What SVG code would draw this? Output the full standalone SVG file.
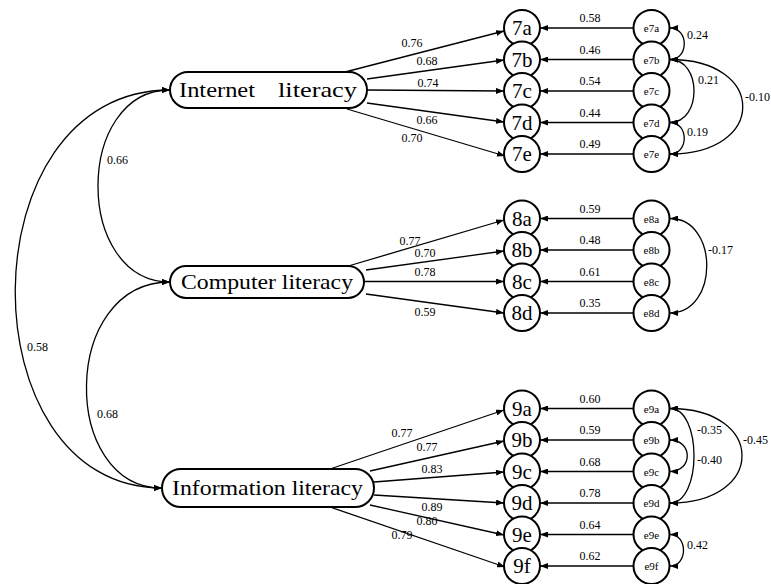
<svg xmlns="http://www.w3.org/2000/svg" width="771" height="584" viewBox="0 0 771 584">
<style>
  .lat { fill: #fff; stroke: #000; stroke-width: 2; }
  .ind { fill: #fff; stroke: #000; stroke-width: 2; }
  .ltxt { font-family: "Liberation Serif", "DejaVu Serif", serif; font-size: 21px; fill: #000; }
  .itxt { font-family: "Liberation Serif", "DejaVu Serif", serif; font-size: 21px; fill: #000; text-anchor: middle; }
  .etxt { font-family: "Liberation Serif", "DejaVu Serif", serif; font-size: 11px; fill: #000; text-anchor: middle; }
  .coef { font-family: "Liberation Serif", "DejaVu Serif", serif; font-size: 12px; fill: #000; }
  .mid { text-anchor: middle; }
  .ln { fill: none; stroke: #000; stroke-width: 1.3; marker-end: url(#ah); }
  .cov { fill: none; stroke: #000; stroke-width: 1.3; marker-start: url(#ah); marker-end: url(#ah); }
</style>
<defs>
  <marker id="ah" markerWidth="8" markerHeight="6" refX="8" refY="3" orient="auto-start-reverse" markerUnits="userSpaceOnUse">
    <path d="M0,0 L8,3 L0,6 z" fill="#000"/>
  </marker>
</defs>
<rect width="771" height="584" fill="#fff"/>

<g id="connectors">
  <!-- latent covariances -->
  <path class="cov" d="M170,90 C 74,90 74,282 170,282"/>
  <path class="cov" d="M170,282 C 60,282 60,488 162,488"/>
  <path class="cov" d="M170,90 C -35,90 -35,488 162,488"/>
  <!-- Internet loadings -->
  <path class="ln" d="M345,72 L504,31"/>
  <path class="ln" d="M367,79 L504,60"/>
  <path class="ln" d="M367,90 L504,91"/>
  <path class="ln" d="M367,103 L504,122"/>
  <path class="ln" d="M347,109 L505,156"/>
  <!-- Computer loadings -->
  <path class="ln" d="M345,267 L504,220"/>
  <path class="ln" d="M366,270 L504,251"/>
  <path class="ln" d="M364,281.5 L504,281.5"/>
  <path class="ln" d="M366,294 L504,313"/>
  <!-- Information loadings -->
  <path class="ln" d="M330,469 L504,410"/>
  <path class="ln" d="M370,471 L504,441"/>
  <path class="ln" d="M374,482 L504,472"/>
  <path class="ln" d="M374,495 L504,503"/>
  <path class="ln" d="M370,505 L504,535"/>
  <path class="ln" d="M330,507 L505,567"/>
  <!-- error paths -->
  <path class="ln" d="M633,28 L540,28"/>
  <path class="ln" d="M633,59.5 L540,59.5"/>
  <path class="ln" d="M633,91 L540,91"/>
  <path class="ln" d="M633,122.5 L540,122.5"/>
  <path class="ln" d="M633,154 L540,154"/>
  <path class="ln" d="M633,218.5 L540,218.5"/>
  <path class="ln" d="M633,250 L540,250"/>
  <path class="ln" d="M633,281.5 L540,281.5"/>
  <path class="ln" d="M633,313 L540,313"/>
  <path class="ln" d="M633,408.5 L540,408.5"/>
  <path class="ln" d="M633,440 L540,440"/>
  <path class="ln" d="M633,471.5 L540,471.5"/>
  <path class="ln" d="M633,503 L540,503"/>
  <path class="ln" d="M633,534.5 L540,534.5"/>
  <path class="ln" d="M633,566 L540,566"/>
  <!-- error covariances -->
  <path class="cov" d="M670,28 C 689,28 689,59.5 670,59.5"/>
  <path class="cov" d="M670,59.5 C 702,59.5 702,122.5 670,122.5"/>
  <path class="cov" d="M670,122.5 C 689,122.5 689,154 670,154"/>
  <path class="cov" d="M670,59.5 C 767,59.5 767,154 670,154"/>
  <path class="cov" d="M670,218.5 C 719,218.5 719,313 670,313"/>
  <path class="cov" d="M670,408.5 C 702,408.5 702,503 670,503"/>
  <path class="cov" d="M670,440 C 693,440 693,471.5 670,471.5"/>
  <path class="cov" d="M670,408.5 C 766,408.5 766,503 670,503"/>
  <path class="cov" d="M670,534.5 C 688,534.5 688,566 670,566"/>

  <!-- labels -->
  <text class="coef" x="107" y="164">0.66</text>
  <text class="coef" x="97" y="418">0.68</text>
  <text class="coef" x="27" y="351">0.58</text>

  <text class="coef mid" x="412" y="47">0.76</text>
  <text class="coef mid" x="427" y="65">0.68</text>
  <text class="coef mid" x="428" y="87">0.74</text>
  <text class="coef mid" x="427" y="124">0.66</text>
  <text class="coef mid" x="412" y="142">0.70</text>

  <text class="coef mid" x="410" y="245">0.77</text>
  <text class="coef mid" x="425" y="257">0.70</text>
  <text class="coef mid" x="425" y="276">0.78</text>
  <text class="coef mid" x="425" y="316">0.59</text>

  <text class="coef mid" x="402" y="437">0.77</text>
  <text class="coef mid" x="427" y="451">0.77</text>
  <text class="coef mid" x="432" y="473">0.83</text>
  <text class="coef mid" x="432" y="511">0.89</text>
  <text class="coef mid" x="427" y="525">0.80</text>
  <text class="coef mid" x="402" y="539">0.79</text>

  <text class="coef mid" x="590" y="22">0.58</text>
  <text class="coef mid" x="590" y="53.5">0.46</text>
  <text class="coef mid" x="590" y="85">0.54</text>
  <text class="coef mid" x="590" y="116.5">0.44</text>
  <text class="coef mid" x="590" y="148">0.49</text>
  <text class="coef mid" x="590" y="212.5">0.59</text>
  <text class="coef mid" x="590" y="244">0.48</text>
  <text class="coef mid" x="590" y="275.5">0.61</text>
  <text class="coef mid" x="590" y="307">0.35</text>
  <text class="coef mid" x="590" y="402.5">0.60</text>
  <text class="coef mid" x="590" y="434">0.59</text>
  <text class="coef mid" x="590" y="465.5">0.68</text>
  <text class="coef mid" x="590" y="497">0.78</text>
  <text class="coef mid" x="590" y="528.5">0.64</text>
  <text class="coef mid" x="590" y="560">0.62</text>

  <text class="coef" x="687" y="39">0.24</text>
  <text class="coef" x="698" y="84">0.21</text>
  <text class="coef" x="687" y="136">0.19</text>
  <text class="coef" x="745" y="101">-0.10</text>
  <text class="coef" x="708" y="254">-0.17</text>
  <text class="coef" x="697" y="434">-0.35</text>
  <text class="coef" x="697" y="464">-0.40</text>
  <text class="coef" x="743" y="444">-0.45</text>
  <text class="coef" x="687" y="549">0.42</text>
</g>

<g id="internet">
  <rect class="lat" x="170" y="72" width="197" height="36" rx="18"/>
  <text class="ltxt" y="97"><tspan x="179" textLength="76" lengthAdjust="spacingAndGlyphs">Internet</tspan> <tspan x="278" textLength="79" lengthAdjust="spacingAndGlyphs">literacy</tspan></text>
</g>
<g id="computer">
  <rect class="lat" x="170" y="266" width="194" height="32" rx="16"/>
  <text class="ltxt" x="181" y="289" textLength="172" lengthAdjust="spacingAndGlyphs">Computer literacy</text>
</g>
<g id="information">
  <rect class="lat" x="162" y="469" width="212" height="38" rx="19"/>
  <text class="ltxt" x="172" y="495" textLength="191" lengthAdjust="spacingAndGlyphs">Information literacy</text>
</g>

<g id="n7a"><circle class="ind" cx="522" cy="28" r="18"/><text class="itxt" x="522" y="35">7a</text></g>
<g id="n7b"><circle class="ind" cx="522" cy="59.5" r="18"/><text class="itxt" x="522" y="66.5">7b</text></g>
<g id="n7c"><circle class="ind" cx="522" cy="91" r="18"/><text class="itxt" x="522" y="98">7c</text></g>
<g id="n7d"><circle class="ind" cx="522" cy="122.5" r="18"/><text class="itxt" x="522" y="129.5">7d</text></g>
<g id="n7e"><circle class="ind" cx="522" cy="154" r="18"/><text class="itxt" x="522" y="161">7e</text></g>

<g id="n8a"><circle class="ind" cx="522" cy="218.5" r="18"/><text class="itxt" x="522" y="225.5">8a</text></g>
<g id="n8b"><circle class="ind" cx="522" cy="250" r="18"/><text class="itxt" x="522" y="257">8b</text></g>
<g id="n8c"><circle class="ind" cx="522" cy="281.5" r="18"/><text class="itxt" x="522" y="288.5">8c</text></g>
<g id="n8d"><circle class="ind" cx="522" cy="313" r="18"/><text class="itxt" x="522" y="320">8d</text></g>

<g id="n9a"><circle class="ind" cx="522" cy="408.5" r="18"/><text class="itxt" x="522" y="415.5">9a</text></g>
<g id="n9b"><circle class="ind" cx="522" cy="440" r="18"/><text class="itxt" x="522" y="447">9b</text></g>
<g id="n9c"><circle class="ind" cx="522" cy="471.5" r="18"/><text class="itxt" x="522" y="478.5">9c</text></g>
<g id="n9d"><circle class="ind" cx="522" cy="503" r="18"/><text class="itxt" x="522" y="510">9d</text></g>
<g id="n9e"><circle class="ind" cx="522" cy="534.5" r="18"/><text class="itxt" x="522" y="541.5">9e</text></g>
<g id="n9f"><circle class="ind" cx="522" cy="566" r="18"/><text class="itxt" x="522" y="573">9f</text></g>

<g id="e7a"><circle class="ind" cx="651.5" cy="28" r="18"/><text class="etxt" x="651.5" y="32">e7a</text></g>
<g id="e7b"><circle class="ind" cx="651.5" cy="59.5" r="18"/><text class="etxt" x="651.5" y="63.5">e7b</text></g>
<g id="e7c"><circle class="ind" cx="651.5" cy="91" r="18"/><text class="etxt" x="651.5" y="95">e7c</text></g>
<g id="e7d"><circle class="ind" cx="651.5" cy="122.5" r="18"/><text class="etxt" x="651.5" y="126.5">e7d</text></g>
<g id="e7e"><circle class="ind" cx="651.5" cy="154" r="18"/><text class="etxt" x="651.5" y="158">e7e</text></g>

<g id="e8a"><circle class="ind" cx="651.5" cy="218.5" r="18"/><text class="etxt" x="651.5" y="222.5">e8a</text></g>
<g id="e8b"><circle class="ind" cx="651.5" cy="250" r="18"/><text class="etxt" x="651.5" y="254">e8b</text></g>
<g id="e8c"><circle class="ind" cx="651.5" cy="281.5" r="18"/><text class="etxt" x="651.5" y="285.5">e8c</text></g>
<g id="e8d"><circle class="ind" cx="651.5" cy="313" r="18"/><text class="etxt" x="651.5" y="317">e8d</text></g>

<g id="e9a"><circle class="ind" cx="651.5" cy="408.5" r="18"/><text class="etxt" x="651.5" y="412.5">e9a</text></g>
<g id="e9b"><circle class="ind" cx="651.5" cy="440" r="18"/><text class="etxt" x="651.5" y="444">e9b</text></g>
<g id="e9c"><circle class="ind" cx="651.5" cy="471.5" r="18"/><text class="etxt" x="651.5" y="475.5">e9c</text></g>
<g id="e9d"><circle class="ind" cx="651.5" cy="503" r="18"/><text class="etxt" x="651.5" y="507">e9d</text></g>
<g id="e9e"><circle class="ind" cx="651.5" cy="534.5" r="18"/><text class="etxt" x="651.5" y="538.5">e9e</text></g>
<g id="e9f"><circle class="ind" cx="651.5" cy="566" r="18"/><text class="etxt" x="651.5" y="570">e9f</text></g>
</svg>
